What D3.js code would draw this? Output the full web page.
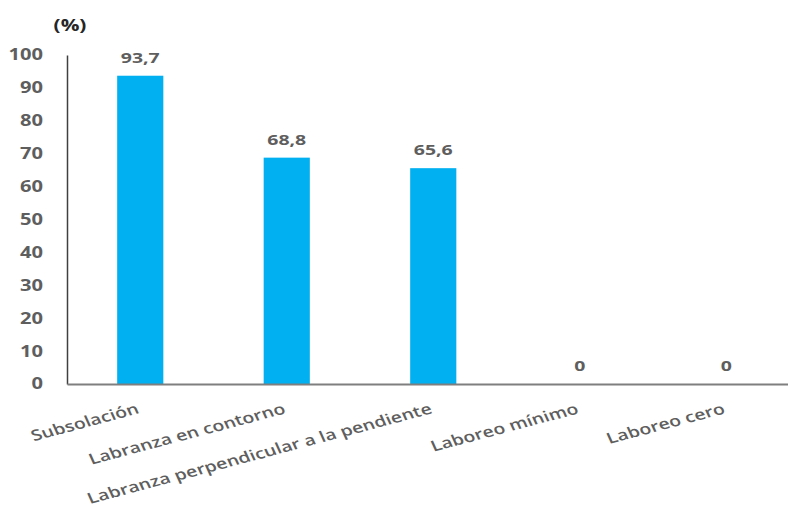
<!DOCTYPE html>
<html>
<head>
<meta charset="utf-8">
<script src="https://cdn.jsdelivr.net/npm/d3@7"></script>
<style>
  html, body { margin: 0; padding: 0; background: #fff; }
  svg { display: block; font-family: "Open Sans", "DejaVu Sans", sans-serif; }
</style>
</head>
<body>
<svg id="chart" width="788" height="513"></svg>
<script>
// Porcentaje por práctica de laboreo
const categories = [
  "Subsolación",
  "Labranza en contorno",
  "Labranza perpendicular a la pendiente",
  "Laboreo mínimo",
  "Laboreo cero"
];
const values = [93.7, 68.8, 65.6, 0, 0];
const valueLabels = ["93,7", "68,8", "65,6", "0", "0"];
const yTicks = [0, 10, 20, 30, 40, 50, 60, 70, 80, 90, 100];
const unitLabel = "(%)";

const svg = d3.select("#chart");
const plotLeft = 67, plotTop = 55, plotBottom = 384;
const bandRight = plotLeft + 5 * 146.5;
const sx = 1.3; // wide lettering: text is stretched horizontally

const x = d3.scaleBand().domain(categories).range([plotLeft, bandRight]).padding(0);
const y = d3.scaleLinear().domain([0, 100]).range([plotBottom, plotTop]);

const barW = x.bandwidth() * 0.315;
const textColor = "#5e5e5e";

// Bars
svg.append("g").selectAll("rect")
  .data(categories)
  .join("rect")
  .attr("x", (d) => x(d) + x.bandwidth() / 2 - barW / 2)
  .attr("y", (d, i) => y(values[i]))
  .attr("width", barW)
  .attr("height", (d, i) => y(0) - y(values[i]))
  .attr("fill", "#00b0f0");

// Value labels above the bars
svg.append("g").selectAll("text")
  .data(categories)
  .join("text")
  .attr("transform", (d, i) => `translate(${x(d) + x.bandwidth() / 2},${y(values[i]) - 13}) scale(${sx},1)`)
  .attr("text-anchor", "middle")
  .attr("font-size", 15)
  .attr("font-weight", 700)
  .attr("fill", textColor)
  .text((d, i) => valueLabels[i]);

// Y axis
const yAxis = svg.append("g")
  .attr("transform", `translate(${plotLeft},0)`)
  .call(d3.axisLeft(y).tickValues(yTicks).tickSize(0));
yAxis.select(".domain").attr("stroke", "#404040").attr("stroke-width", 1.5);
yAxis.selectAll(".tick text")
  .attr("x", 0)
  .attr("transform", `translate(-24,0) scale(${sx},1)`)
  .attr("font-size", 15.5)
  .attr("font-weight", 700)
  .attr("fill", textColor)
  .attr("font-family", "\"Open Sans\", sans-serif");

// X axis
const xAxis = svg.append("g")
  .attr("transform", `translate(0,${plotBottom})`)
  .call(d3.axisBottom(x).tickSize(0).tickFormat(() => ""));
xAxis.select(".domain").attr("stroke", "#7f7f7f").attr("stroke-width", 2);

// Rotated category labels
svg.append("g").selectAll("text")
  .data(categories)
  .join("text")
  .attr("transform", (d) => `translate(${x(d) + x.bandwidth() / 2},${plotBottom + 29}) scale(${sx},1) rotate(-19)`)
  .attr("text-anchor", "end")
  .attr("font-size", 15)
  .attr("font-weight", 600)
  .attr("fill", textColor)
  .text((d) => d);

// Unit label
svg.append("text")
  .attr("transform", `translate(70,31) scale(${sx},1)`)
  .attr("text-anchor", "middle")
  .attr("font-size", 16)
  .attr("font-weight", 700)
  .attr("fill", "#262626")
  .text(unitLabel);
</script>
</body>
</html>
